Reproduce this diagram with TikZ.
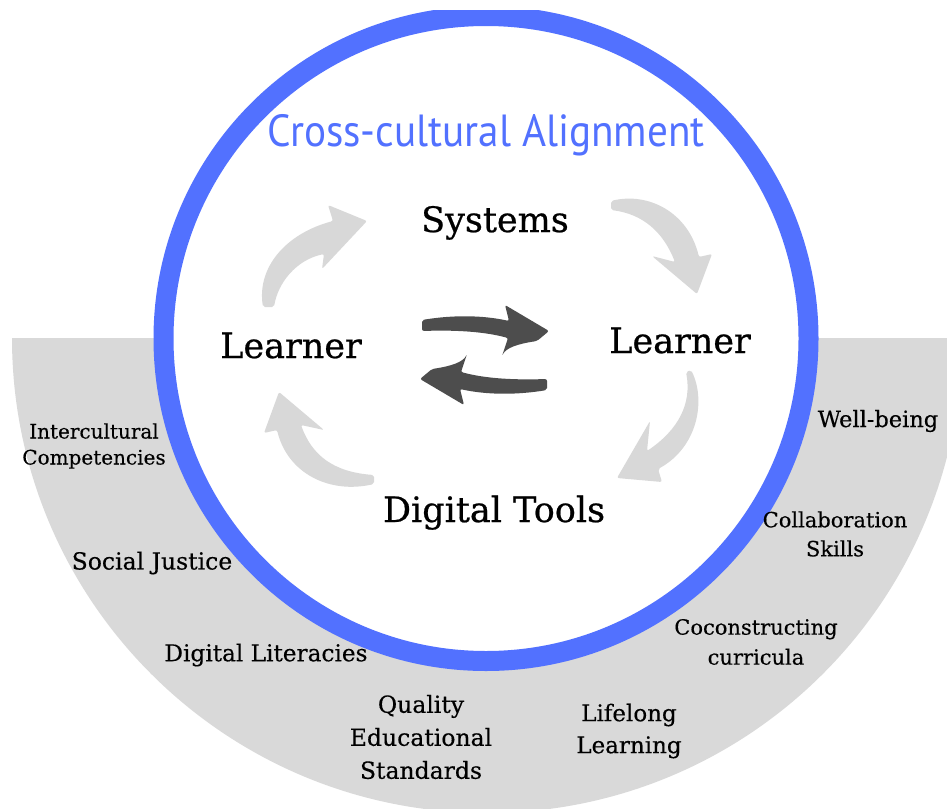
\documentclass[tikz,border=0pt]{standalone}
\usepackage{fontspec}
\setmainfont{DejaVu Serif}
\newfontfamily\titlefont[FakeStretch=0.915]{PT Sans}
\newfontfamily\bigfont[FakeBold=0.6]{DejaVu Serif}
\newfontfamily\tagfont[FakeBold=0.35]{DejaVu Serif}
\definecolor{ringblue}{HTML}{5271FF}
\definecolor{bandgray}{HTML}{D9D9D9}
\definecolor{cyclegray}{HTML}{D8D8D8}
\definecolor{swapdark}{HTML}{4D4D4D}
\tikzset{
  bigword/.style={font=\bigfont\fontsize{35}{40}\selectfont, text=black, inner sep=0pt, anchor=base},
  tag/.style={align=center, inner sep=0pt, text=black},
  cyclearrow/.style={fill=cyclegray, rounded corners=2pt},
  swaparrow/.style={fill=swapdark, rounded corners=2pt},
}
\begin{document}
\begin{tikzpicture}[x=1pt, y=-1pt]
\useasboundingbox (0,0) rectangle (947,808);
\fill[white] (0,0) rectangle (947,808);
\begin{scope}
\clip (0,11) rectangle (947,808);
% gray half disc
\fill[bandgray] (12,338) arc[start angle=180, end angle=0, radius=475] -- cycle;
% ring
\draw[ringblue, line width=20pt, fill=white] (486,338.5) circle[radius=322.5];
\end{scope}

% title
\node[text=ringblue, font=\titlefont\fontsize{45}{50}\selectfont, inner sep=0pt, anchor=base] (title) at (486,146) {Cross-cultural Alignment};

% main words
\node[bigword] (systems) at (495,232) {Systems};
\node[bigword] (learnerL) at (291,358) {Learner};
\node[bigword] (learnerR) at (680,353) {Learner};
\node[bigword] (tools) at (494,522) {Digital Tools};

% cycle arrows
\fill[cyclearrow] (263,307) .. controls (257,268) and (285,234) .. (333,221) -- (328,205) -- (367,221) -- (322,269) -- (324,254) .. controls (296,260) and (278,283) .. (274,307) -- cycle;
\fill[cyclearrow] (611,201) .. controls (648,192) and (688,212) .. (699,257) -- (712,254) -- (697,294) -- (652,256) -- (675,262) .. controls (663,232) and (643,214) .. (611,210) -- cycle;
\fill[cyclearrow] (691,370) .. controls (706,400) and (698,447) .. (658,469) -- (662,482) -- (617,478) -- (650,421) -- (647,451) .. controls (678,430) and (692,404) .. (686,372) -- cycle;
\fill[cyclearrow] (374,484) .. controls (330,494) and (288,474) .. (277,430) -- (264,433) -- (279,392) -- (324,430) -- (301,425) .. controls (312,455) and (333,472) .. (374,475) -- cycle;

% swap arrows
\fill[swaparrow] (422,320) .. controls (452,315) and (482,315) .. (509,321) -- (505,305) -- (549,331) -- (537,341) .. controls (517,344) and (506,348) .. (502,356) -- (508,338) .. controls (482,331) and (452,330) .. (422,331) -- cycle;
\fill[swaparrow] (547,390) .. controls (517,395) and (487,395) .. (460,389) -- (464,405) -- (420,379) -- (432,369) .. controls (452,366) and (463,362) .. (467,354) -- (461,372) .. controls (487,379) and (517,380) .. (547,379) -- cycle;

% band labels
\node[tag, font=\tagfont\fontsize{20}{26}\selectfont] (inter) at (94,446) {Intercultural\\Competencies};
\node[tag, font=\tagfont\fontsize{23.5}{30}\selectfont] (social) at (152,563) {Social Justice};
\node[tag, font=\tagfont\fontsize{23.2}{30}\selectfont] (litera) at (266,655) {Digital Literacies};
\node[tag, font=\tagfont\fontsize{23.5}{33}\selectfont] (quality) at (421,737) {Quality\\Educational\\Standards};
\node[tag, font=\tagfont\fontsize{23}{32}\selectfont] (lifelong) at (629,731) {Lifelong\\Learning};
\node[tag, font=\tagfont\fontsize{21}{30}\selectfont] (cocon) at (756,642) {Coconstructing\\curricula};
\node[tag, font=\tagfont\fontsize{21}{29}\selectfont] (collab) at (835,534) {Collaboration\\Skills};
\node[tag, font=\tagfont\fontsize{22.5}{28}\selectfont] (well) at (878,421) {Well-being};
\end{tikzpicture}
\end{document}
